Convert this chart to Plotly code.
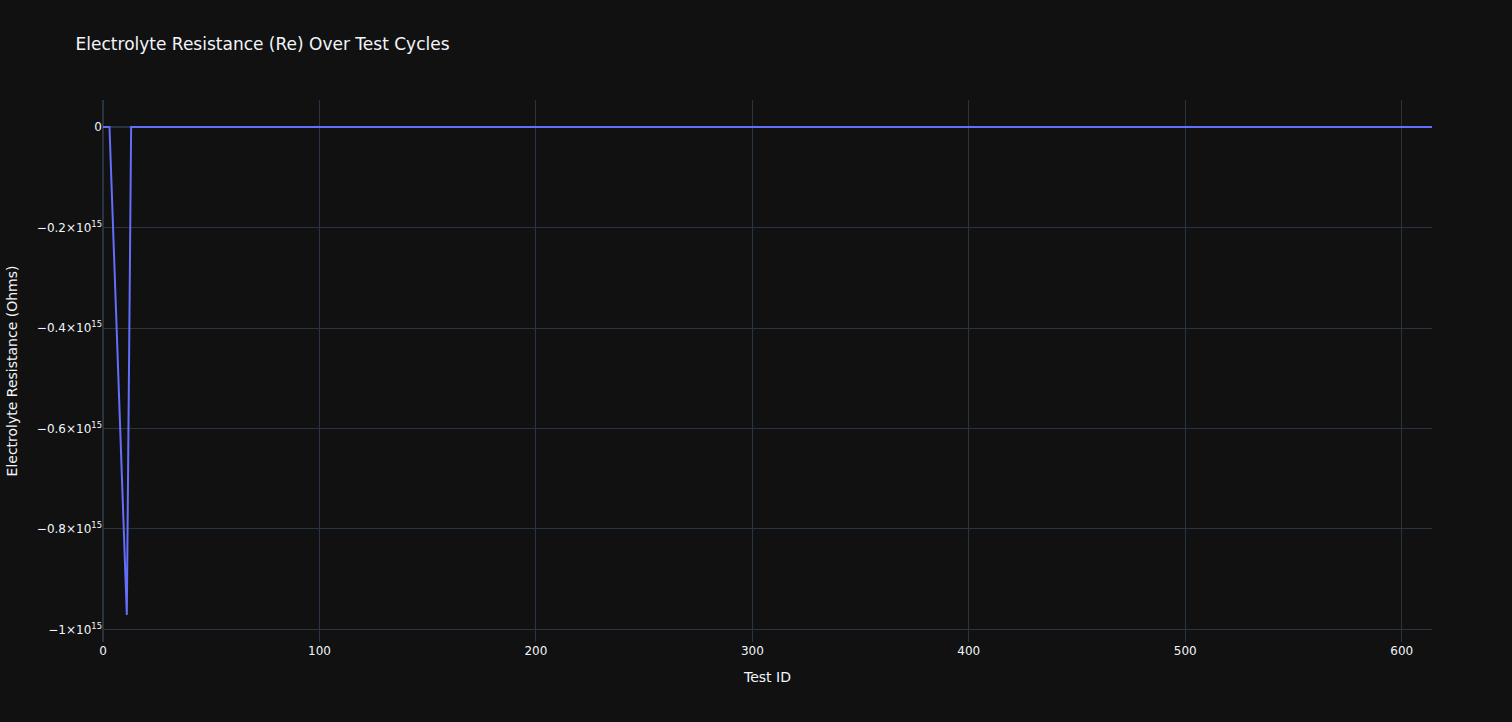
import plotly.graph_objects as go

# Test IDs present in the data (gaps between 3 and 11, and at 12)
test_ids = [0, 1, 2, 3, 11] + list(range(13, 615))
# Electrolyte resistance values (Ohms); all near zero except one outlier
re_values = [0.0, 0.0, 0.0, 0.0, -0.971e15] + [0.0] * (len(range(13, 615)))

fig = go.Figure(
    go.Scatter(
        x=test_ids,
        y=re_values,
        mode="lines",
        line=dict(color="#636efa", width=2),
        name="Re",
    )
)

fig.update_layout(
    template="plotly_dark",
    width=1512,
    height=722,
    font=dict(family="DejaVu Sans"),
    title="Electrolyte Resistance (Re) Over Test Cycles",
    xaxis_title="Test ID",
    yaxis_title="Electrolyte Resistance (Ohms)",
    showlegend=False,
)

fig.write_html("out.html")
